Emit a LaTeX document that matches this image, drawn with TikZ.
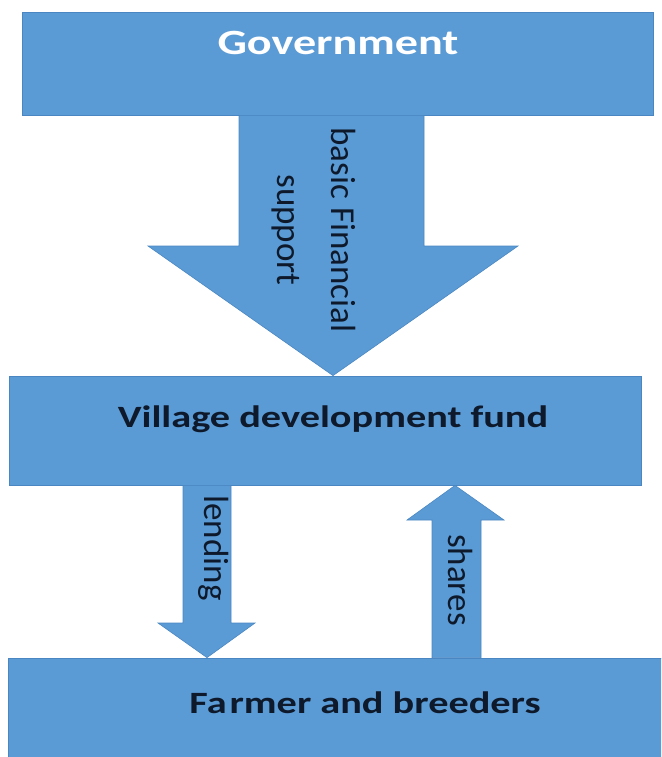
\documentclass[tikz,border=0pt]{standalone}
\usepackage{fontspec}
\setmainfont{Carlito}
\newfontfamily\widefont[FakeStretch=1.3]{Carlito}
\usetikzlibrary{calc}

\definecolor{boxblue}{HTML}{5B9BD5}
\definecolor{edgeblue}{HTML}{4A87C2}
\definecolor{inkdark}{HTML}{0E1A2B}

\tikzset{
	block/.style={draw=edgeblue, line width=0.8pt, fill=boxblue, inner sep=0pt},
	boxtitle/.style={font=\widefont\bfseries\fontsize{31}{37}\selectfont, text=inkdark, inner sep=0pt, anchor=base},
	flow/.style={draw=edgeblue, line width=0.6pt, fill=boxblue},
	flowlabel/.style={font=\fontsize{35}{54}\selectfont, text=inkdark, rotate=-90, align=center, inner sep=0pt}
}

\begin{document}
\begin{tikzpicture}[x=1pt, y=-1pt]
			\clip (0,0) rectangle (661,757);
			
			% -- Boxes --
			\node[block, minimum width=631pt, minimum height=103pt] (gov) at (337.5,63.5) {};
			\node[block, minimum width=632pt, minimum height=109pt] (fund) at (325,430.5) {};
			\node[block, minimum width=660pt, minimum height=112pt] (farm) at (338,714) {};
			
			% -- Government to fund --
			\draw[flow] (239,0 |- gov.south) -- (239,246) -- (148,246) -- (333,0 |- fund.north)
				-- (518,246) -- (424,246) -- (424,0 |- gov.south) -- cycle;
			\node[flowlabel] (support) at (314,230) {basic Financial\\support};
			
			% -- Lending down, shares up --
			\draw[flow] (183,0 |- fund.south) -- (183,623) -- (158,623) -- (207,0 |- farm.north)
				-- (255,623) -- (231,623) -- (231,0 |- fund.south) -- cycle;
			\node[flowlabel] (lending) at (214,548) {lending};
			\draw[flow] (432,0 |- farm.north) -- (432,520) -- (407,520) -- (455,0 |- fund.south)
				-- (504,520) -- (481,520) -- (481,0 |- farm.north) -- cycle;
			\node[flowlabel] (shares) at (461,580) {shares};
			
			% -- Box titles --
			\node[boxtitle, text=white, font=\widefont\bfseries\fontsize{35.5}{42}\selectfont] (govname) at (338,55) {Government};
			\node[boxtitle] (fundname) at (333,427) {Village development fund};
			\node[boxtitle] (farmname) at (365,713) {Fa\kern3pt rmer and breeders};
		\end{tikzpicture}
\end{document}
